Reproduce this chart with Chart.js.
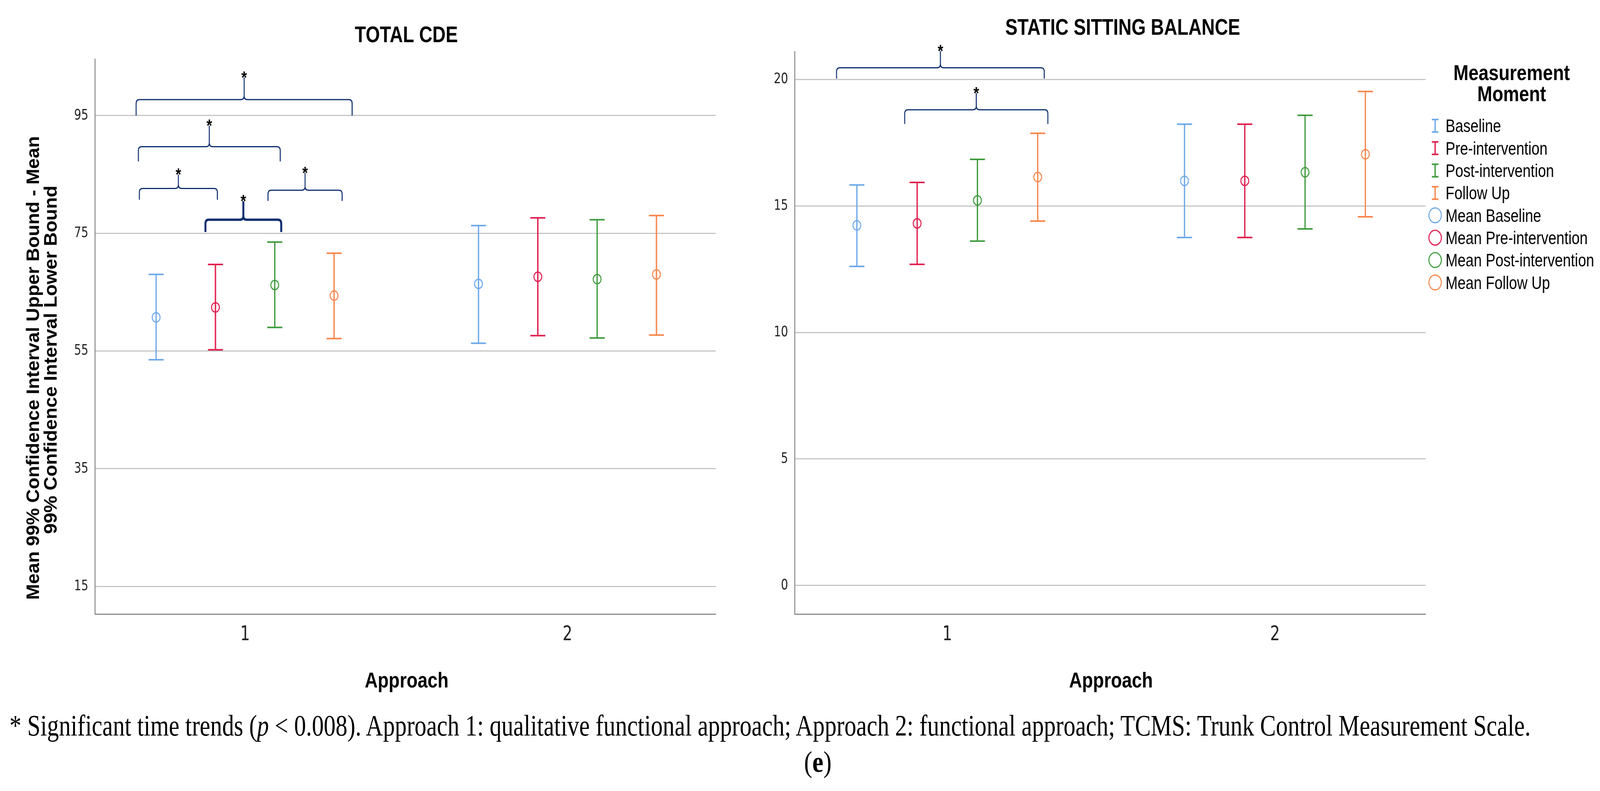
<!DOCTYPE html>
<html>
<head>
<meta charset="utf-8">
<script src="https://cdn.jsdelivr.net/npm/chart.js@4.4.1/dist/chart.umd.min.js"></script>
<style>
    html, body { margin: 0; padding: 0; background: #fff; overflow: hidden; }
    #page { position: absolute; left: 0; top: 0; width: 4891px; height: 2025px; transform-origin: 0 0; background: #fff; }
    canvas { position: absolute; top: 0; }
    #c1 { left: 0; }
    #c2 { left: 2300px; }
    .cap { position: absolute; white-space: nowrap; font-family: 'Liberation Serif', 'Times New Roman', serif; color: #000; line-height: 1; transform-origin: 0 0; }
</style>
</head>
<body>
<div id="page">
<canvas id="c1" width="2300" height="1800"></canvas>
<canvas id="c2" width="2591" height="1800"></canvas>
<div id="note" class="cap" style="left:29px; top:1819px; font-size:76px;">* Significant time trends (<i>p</i> &lt; 0.008). Approach 1: qualitative functional approach; Approach 2: functional approach; TCMS: Trunk Control Measurement Scale.</div>
<div id="panel" class="cap" style="top:1912px; font-size:76px;">(<b>e</b>)</div>
</div>
<script>
// ── Data ──────────────────────────────────────────────────────────────────────
const APPROACHES  = [1, 2];
const MOMENTS     = ["Baseline", "Pre-intervention", "Post-intervention", "Follow Up"];
const MEAN_LABELS = ["Mean Baseline", "Mean Pre-intervention", "Mean Post-intervention", "Mean Follow Up"];

// TOTAL CDE — rows: moment, cols: approach
const CDE_MEAN  = [[60.7, 66.4], [62.4, 67.6], [66.2, 67.2], [64.4, 68.0]];
const CDE_LOW   = [[53.5, 56.3], [55.2, 57.6], [59.0, 57.2], [57.1, 57.7]];
const CDE_HIGH  = [[68.0, 76.3], [69.7, 77.6], [73.5, 77.3], [71.6, 78.0]];
const CDE_TICKS = [15, 35, 55, 75, 95];

// STATIC SITTING BALANCE
const SSB_MEAN  = [[14.23, 15.99], [14.31, 15.99], [15.22, 16.33], [16.14, 17.04]];
const SSB_LOW   = [[12.61, 13.75], [12.69, 13.75], [13.61, 14.09], [14.40, 14.57]];
const SSB_HIGH  = [[15.83, 18.23], [15.93, 18.23], [16.84, 18.58], [17.87, 19.52]];
const SSB_TICKS = [0, 5, 10, 15, 20];

// significance braces: [from, to (approach units), leg foot, bar level, star level, heavy]
const CDE_BRACES = [
    [0.662, 1.332, 95.0, 97.7, 102.1, false],
    [0.669, 1.109, 87.2, 89.7,  93.9, false],
    [0.672, 0.914, 80.7, 82.6,  85.6, false],
    [1.071, 1.301, 80.5, 82.3,  85.9, false],
    [0.877, 1.112, 75.2, 77.3,  81.1, true],
];
const SSB_BRACES = [
    [0.662, 1.296, 20.03, 20.46, 21.27, false],
    [0.870, 1.307, 18.24, 18.80, 19.61, false],
];

// ── Styles ────────────────────────────────────────────────────────────────────
const C = { blue: "#6ea8ea", red: "#e01c4c", green: "#3e9a3c", orange: "#f8854b", brace: "#0c2d6f", grid: "#c6c6c6", axis: "#8c8c8c" };
const COLORS = [C.blue, C.red, C.green, C.orange];
const DODGE  = [-0.276, -0.092, 0.092, 0.276];
const SANS   = "'Liberation Sans', Arial, sans-serif";
const NARROW = "'Liberation Sans Narrow', 'Arial Narrow', 'DejaVu Sans Condensed', 'Liberation Sans', sans-serif";

// ── Page fit: layout is done at 4891×2025, stretched to whatever the viewport is ──
const page = document.getElementById("page");
const vw = window.innerWidth, vh = window.innerHeight;
page.style.transform = `scale(${vw / 4891}, ${vh / 2025})`;

// ── Helpers ───────────────────────────────────────────────────────────────────
function drawText(ctx, t) {
    ctx.save();
    ctx.font = `${t.bold ? "bold " : ""}${t.size}px ${t.family || SANS}`;
    const sx = t.sx || (t.width ? t.width / ctx.measureText(t.text).width : 1);
    ctx.translate(t.x, t.y);
    if (t.rot) ctx.rotate(t.rot);
    ctx.scale(sx, 1);
    ctx.fillStyle = "#000";
    ctx.textAlign = t.align || "center";
    ctx.textBaseline = "alphabetic";
    ctx.fillText(t.text, 0, 0.358 * t.size);
    ctx.restore();
}

function drawBrace(ctx, xs, ys, [x1, x2, yLeg, yBar, yStar, heavy]) {
    const L = xs.getPixelForValue(x1), R = xs.getPixelForValue(x2), M = (L + R) / 2;
    const B = ys.getPixelForValue(yLeg), H = ys.getPixelForValue(yBar), S = ys.getPixelForValue(yStar);
    const r = Math.min(10, (B - H) / 2);
    ctx.save();
    ctx.strokeStyle = C.brace;
    ctx.lineWidth = heavy ? 6 : 3;
    ctx.beginPath();
    ctx.moveTo(L, B);
    ctx.lineTo(L, H + r);
    ctx.quadraticCurveTo(L, H, L + r, H);
    ctx.lineTo(M - r, H);
    ctx.quadraticCurveTo(M, H, M, H - r);
    ctx.lineTo(M, S + 10);
    ctx.moveTo(M, H - r);
    ctx.quadraticCurveTo(M, H, M + r, H);
    ctx.lineTo(R - r, H);
    ctx.quadraticCurveTo(R, H, R, H + r);
    ctx.lineTo(R, B);
    ctx.stroke();
    ctx.fillStyle = "#000";
    ctx.font = `bold 44px ${SANS}`;
    ctx.textAlign = "center";
    ctx.textBaseline = "alphabetic";
    ctx.fillText("*", M, S + 25);
    ctx.restore();
}

function drawLegend(ctx, L) {
    ctx.save();
    ctx.font = `${L.size}px ${SANS}`;
    const sx = L.width / ctx.measureText(MEAN_LABELS[2]).width;
    [...MOMENTS, ...MEAN_LABELS].forEach((lab, i) => {
        const cy = L.top + i * L.step;
        ctx.strokeStyle = COLORS[i % 4];
        ctx.beginPath();
        if (i < 4) {
            ctx.lineWidth = 4;
            ctx.moveTo(L.iconX, cy - 16); ctx.lineTo(L.iconX, cy + 16);
            ctx.moveTo(L.iconX - 10, cy - 16); ctx.lineTo(L.iconX + 10, cy - 16);
            ctx.moveTo(L.iconX - 10, cy + 16); ctx.lineTo(L.iconX + 10, cy + 16);
        } else {
            ctx.lineWidth = 3;
            ctx.arc(L.iconX, cy, 19, 0, Math.PI * 2);
        }
        ctx.stroke();
        drawText(ctx, { text: lab, x: L.textX, y: cy, size: L.size, align: "left", sx });
    });
    ctx.restore();
}

const overlay = {
    id: "overlay",
    afterDraw(chart, args, o) {
        const { ctx, scales: { x, y } } = chart;
        o.braces.forEach((b) => drawBrace(ctx, x, y, b));
        o.texts.forEach((t) => drawText(ctx, t));
        if (o.legend) drawLegend(ctx, o.legend);
    },
};

// ── Datasets: whisker lines (caps via 'line' point style) + hollow mean circles ──
function buildDatasets(mean, low, high) {
    const out = [];
    MOMENTS.forEach((m, i) => {
        const pts = [];
        APPROACHES.forEach((a, j) => {
            if (j) pts.push({ x: a - 0.5, y: null });
            pts.push({ x: a + DODGE[i], y: low[i][j] }, { x: a + DODGE[i], y: high[i][j] });
        });
        out.push({
            type: "line", label: m, data: pts, spanGaps: false,
            borderColor: COLORS[i], borderWidth: 4,
            pointStyle: "line", pointRadius: 23, pointHoverRadius: 23,
            pointBorderColor: COLORS[i], pointBorderWidth: 4,
        });
    });
    MOMENTS.forEach((m, i) => {
        out.push({
            type: "scatter", label: MEAN_LABELS[i],
            data: APPROACHES.map((a, j) => ({ x: a + DODGE[i], y: mean[i][j] })),
            pointStyle: "circle", pointRadius: 12, pointHoverRadius: 12, pointBorderWidth: 3,
            borderColor: COLORS[i], pointBorderColor: COLORS[i],
            backgroundColor: "rgba(0,0,0,0)", pointBackgroundColor: "rgba(0,0,0,0)",
        });
    });
    return out;
}

function buildScales(yMin, yMax, ticks, yWidth) {
    return {
        x: {
            type: "linear", min: 0.534, max: 2.46,
            afterBuildTicks: (s) => { s.ticks = APPROACHES.map((v) => ({ value: v })); },
            afterFit: (s) => { s.height = 228; },
            grid: { display: false, drawTicks: false },
            border: { display: true, color: C.axis, width: 3 },
            ticks: { color: "#222", font: { family: NARROW, size: 52 }, padding: 22, maxRotation: 0 },
        },
        y: {
            type: "linear", min: yMin, max: yMax,
            afterBuildTicks: (s) => { s.ticks = ticks.map((v) => ({ value: v })); },
            afterFit: (s) => { s.width = yWidth; },
            grid: { color: C.grid, lineWidth: 3, drawTicks: false },
            border: { display: true, color: C.axis, width: 3 },
            ticks: { color: "#222", font: { family: NARROW, size: 38 }, padding: 20 },
        },
    };
}

function baseOptions(scales, padding, overlayOpts) {
    return {
        responsive: false,
        animation: false,
        devicePixelRatio: 1,
        events: [],
        layout: { padding },
        scales,
        plugins: { legend: { display: false }, tooltip: { enabled: false }, overlay: overlayOpts },
    };
}

// ── Charts ────────────────────────────────────────────────────────────────────
new Chart(document.getElementById("c1"), {
    type: "scatter",
    data: { datasets: buildDatasets(CDE_MEAN, CDE_LOW, CDE_HIGH) },
    options: baseOptions(
        buildScales(10.3, 104.6, CDE_TICKS, 290),
        { left: 0, top: 151, right: 112, bottom: 0 },
        {
            braces: CDE_BRACES,
            texts: [
                { text: "TOTAL CDE", x: 1242, y: 88, size: 57, bold: true, width: 315 },
                { text: "Approach", x: 1243, y: 1740, size: 55, bold: true, width: 256 },
                { text: "Mean 99% Confidence Interval Upper Bound - Mean", x: 99, y: 942, size: 56, bold: true, width: 1187, rot: -Math.PI / 2 },
                { text: "99% Confidence Interval Lower Bound", x: 153, y: 921, size: 56, bold: true, width: 892, rot: -Math.PI / 2 },
            ],
        },
    ),
    plugins: [overlay],
});

new Chart(document.getElementById("c2"), {
    type: "scatter",
    data: { datasets: buildDatasets(SSB_MEAN, SSB_LOW, SSB_HIGH) },
    options: baseOptions(
        buildScales(-1.13, 21.1, SSB_TICKS, 129),
        { left: 0, top: 132, right: 533, bottom: 0 },
        {
            braces: SSB_BRACES,
            texts: [
                { text: "STATIC SITTING BALANCE", x: 1132, y: 69, size: 57, bold: true, width: 718 },
                { text: "Approach", x: 1096, y: 1740, size: 55, bold: true, width: 256 },
                { text: "Measurement", x: 2321, y: 185, size: 55, bold: true, width: 356 },
                { text: "Moment", x: 2321, y: 239, size: 55, bold: true, width: 210 },
            ],
            legend: { iconX: 2087, textX: 2119, top: 322, step: 57.3, size: 46, width: 454 },
        },
    ),
    plugins: [overlay],
});

// ── Caption fitting (measured in unscaled page units) ────────────────────────
const sxPage = vw / 4891;
const note = document.getElementById("note");
note.style.transform = `scaleX(${4650 / (note.getBoundingClientRect().width / sxPage)})`;
const panel = document.getElementById("panel");
panel.style.left = (2500 - panel.getBoundingClientRect().width / sxPage / 2) + "px";
</script>
</body>
</html>
